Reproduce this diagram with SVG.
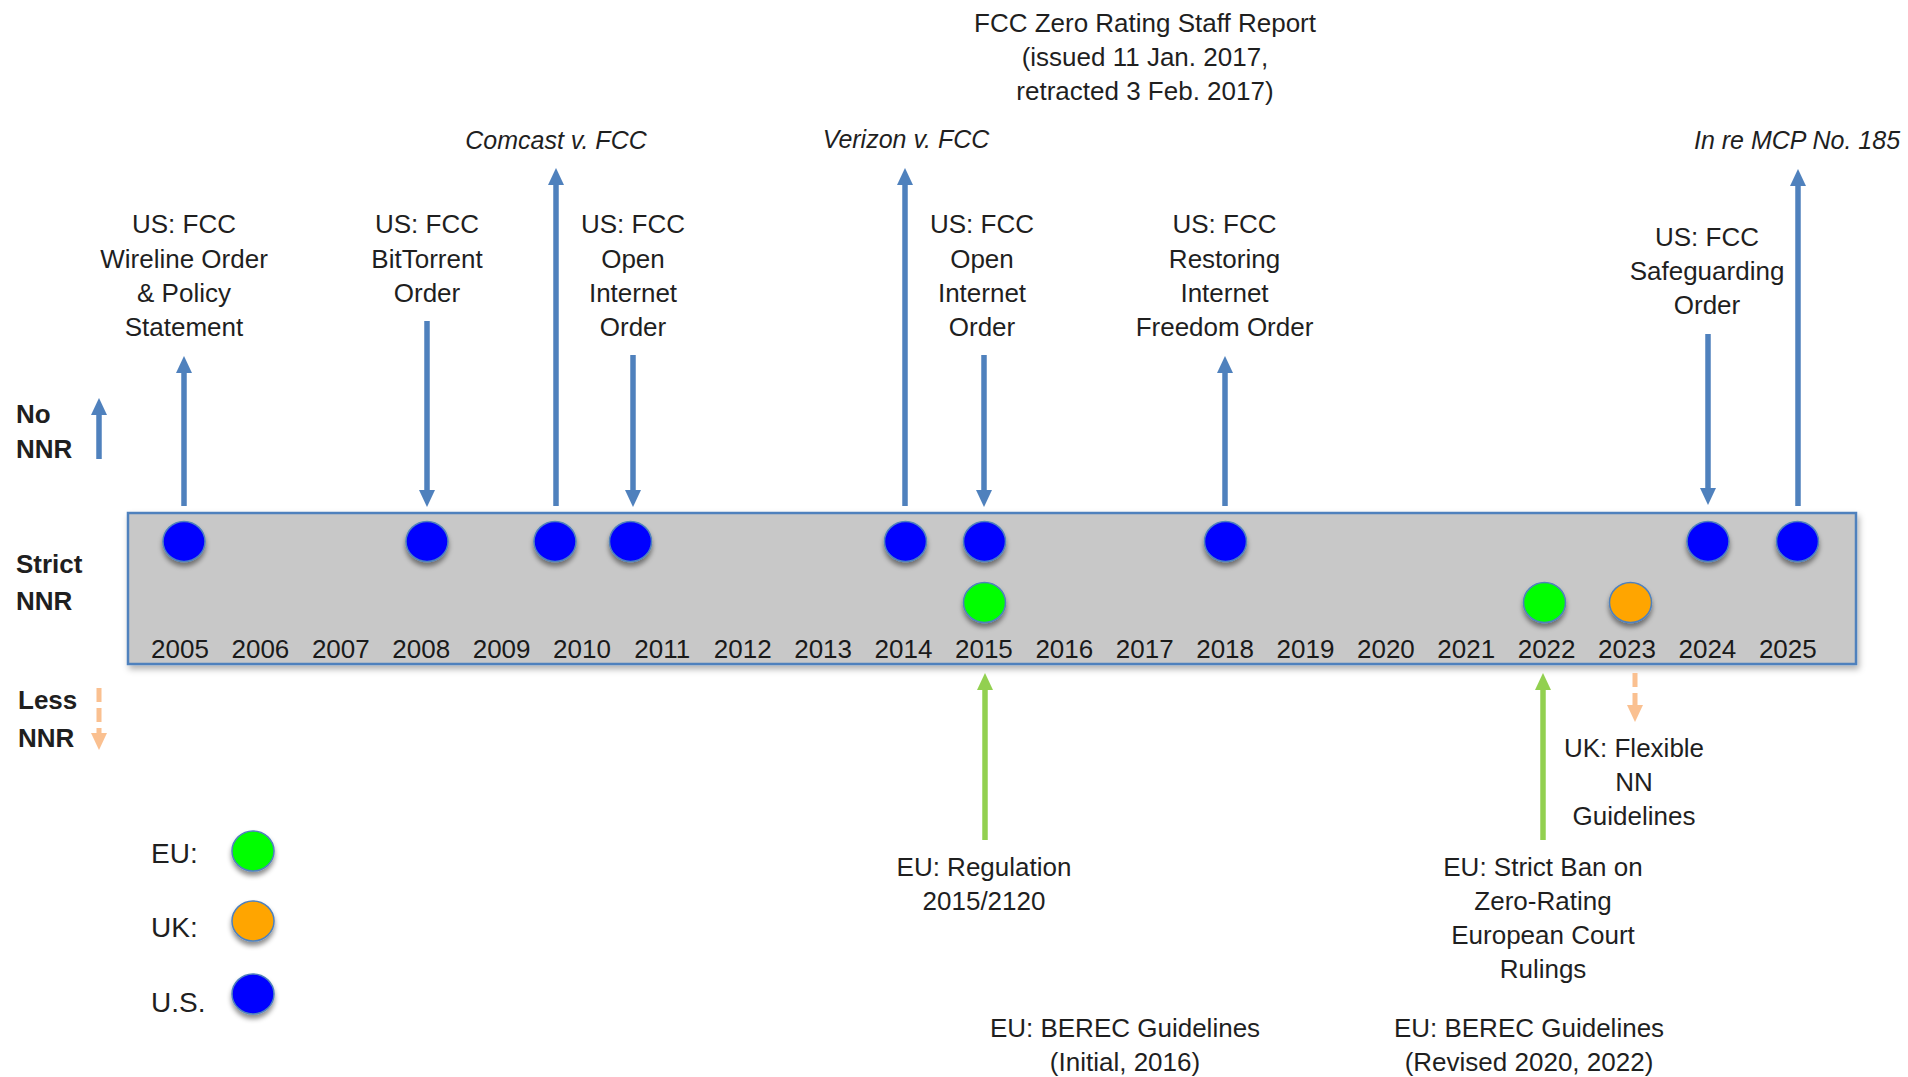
<svg xmlns="http://www.w3.org/2000/svg" width="1908" height="1077" viewBox="0 0 1908 1077">
<defs>
<style>
.t{font-family:"Liberation Sans",Arial,sans-serif;font-size:26px;fill:#1f1f1f;text-anchor:middle}
.it{font-style:italic;font-size:25px}
.b{font-family:"Liberation Sans",Arial,sans-serif;font-size:26px;font-weight:bold;fill:#1f1f1f}
.yr{font-family:"Liberation Sans",Arial,sans-serif;font-size:26px;fill:#1a1a1a;text-anchor:middle}
.lg{font-family:"Liberation Sans",Arial,sans-serif;font-size:28px;fill:#1f1f1f}
.blue{stroke:#4f81bd;stroke-width:5.5;fill:none;marker-end:url(#ahB)}
.green{stroke:#92d050;stroke-width:5.5;fill:none;marker-end:url(#ahG)}
.orange{stroke:#fac090;stroke-width:5;fill:none;stroke-dasharray:14 6;marker-end:url(#ahO)}
.dot{stroke:#4f81bd;stroke-width:1.5;filter:url(#sh)}
.us{fill:#0000ff}
.eu{fill:#00ff00}
.uk{fill:#ffa500}
</style>
<filter id="sh" x="-40%" y="-40%" width="180%" height="200%">
<feDropShadow dx="0" dy="4" stdDeviation="2.5" flood-color="#000" flood-opacity="0.45"/>
</filter>
<filter id="shr" x="-2%" y="-10%" width="104%" height="130%">
<feDropShadow dx="2" dy="4" stdDeviation="3" flood-color="#000" flood-opacity="0.3"/>
</filter>
<marker id="ahB" markerUnits="userSpaceOnUse" viewBox="0 0 18 18" markerWidth="18" markerHeight="18" refX="5" refY="9" orient="auto">
<path d="M0,1 L17,9 L0,17 z" fill="#4f81bd"/>
</marker>
<marker id="ahG" markerUnits="userSpaceOnUse" viewBox="0 0 18 18" markerWidth="18" markerHeight="18" refX="5" refY="9" orient="auto">
<path d="M0,1 L17,9 L0,17 z" fill="#92d050"/>
</marker>
<marker id="ahO" markerUnits="userSpaceOnUse" viewBox="0 0 18 18" markerWidth="18" markerHeight="18" refX="5" refY="9" orient="auto">
<path d="M0,1 L17,9 L0,17 z" fill="#fac090"/>
</marker>
</defs>
<rect width="1908" height="1077" fill="#ffffff"/>

<g id="timeline-bar">
<rect x="128" y="513" width="1728" height="151" fill="#c8c8c8" stroke="#4f81bd" stroke-width="2.5" filter="url(#shr)"/>
<text class="yr" x="180" y="658">2005</text>
<text class="yr" x="260.4" y="658">2006</text>
<text class="yr" x="340.8" y="658">2007</text>
<text class="yr" x="421.2" y="658">2008</text>
<text class="yr" x="501.6" y="658">2009</text>
<text class="yr" x="582" y="658">2010</text>
<text class="yr" x="662.3" y="658">2011</text>
<text class="yr" x="742.7" y="658">2012</text>
<text class="yr" x="823.1" y="658">2013</text>
<text class="yr" x="903.5" y="658">2014</text>
<text class="yr" x="983.9" y="658">2015</text>
<text class="yr" x="1064.3" y="658">2016</text>
<text class="yr" x="1144.7" y="658">2017</text>
<text class="yr" x="1225.1" y="658">2018</text>
<text class="yr" x="1305.5" y="658">2019</text>
<text class="yr" x="1385.9" y="658">2020</text>
<text class="yr" x="1466.2" y="658">2021</text>
<text class="yr" x="1546.6" y="658">2022</text>
<text class="yr" x="1627" y="658">2023</text>
<text class="yr" x="1707.4" y="658">2024</text>
<text class="yr" x="1787.8" y="658">2025</text>
</g>

<g id="axis-labels">
<text class="b" x="16" y="423">No</text>
<text class="b" x="16" y="458">NNR</text>
<text class="b" x="16" y="573">Strict</text>
<text class="b" x="16" y="610">NNR</text>
<text class="b" x="18" y="709">Less</text>
<text class="b" x="18" y="747">NNR</text>
</g>

<g id="connectors">
<line class="blue" x1="99" y1="459" x2="99" y2="410"/>
<line class="orange" x1="99" y1="688" x2="99" y2="738"/>
<line class="blue" x1="184" y1="506" x2="184" y2="368"/>
<line class="blue" x1="427" y1="321" x2="427" y2="495"/>
<line class="blue" x1="556" y1="506" x2="556" y2="180"/>
<line class="blue" x1="633" y1="355" x2="633" y2="495"/>
<line class="blue" x1="905" y1="506" x2="905" y2="180"/>
<line class="blue" x1="984" y1="355" x2="984" y2="495"/>
<line class="blue" x1="1225" y1="506" x2="1225" y2="368"/>
<line class="blue" x1="1708" y1="334" x2="1708" y2="493"/>
<line class="blue" x1="1798" y1="506" x2="1798" y2="181"/>
<line class="green" x1="985" y1="840" x2="985" y2="685"/>
<line class="green" x1="1543" y1="840" x2="1543" y2="685"/>
<line class="orange" x1="1635" y1="673" x2="1635" y2="710"/>
</g>

<g id="dots">
<ellipse class="dot us" cx="184" cy="541.5" rx="21" ry="20"/>
<ellipse class="dot us" cx="427" cy="541.5" rx="21" ry="20"/>
<ellipse class="dot us" cx="555" cy="541.5" rx="21" ry="20"/>
<ellipse class="dot us" cx="630.5" cy="541.5" rx="21" ry="20"/>
<ellipse class="dot us" cx="905.5" cy="541.5" rx="21" ry="20"/>
<ellipse class="dot us" cx="984.5" cy="541.5" rx="21" ry="20"/>
<ellipse class="dot us" cx="1225.5" cy="541.5" rx="21" ry="20"/>
<ellipse class="dot us" cx="1708" cy="541.5" rx="21" ry="20"/>
<ellipse class="dot us" cx="1797.5" cy="541.5" rx="21" ry="20"/>
<ellipse class="dot eu" cx="984.5" cy="602.5" rx="21" ry="20"/>
<ellipse class="dot eu" cx="1544.5" cy="602.5" rx="21" ry="20"/>
<ellipse class="dot uk" cx="1630.5" cy="602.5" rx="21" ry="20"/>
</g>

<g id="ev-2005-wireline">
<text class="t"><tspan x="184" y="233">US: FCC</tspan><tspan x="184" y="267.5">Wireline Order</tspan><tspan x="184" y="301.5">&amp; Policy</tspan><tspan x="184" y="335.5">Statement</tspan></text>
</g>
<g id="ev-2008-bittorrent">
<text class="t"><tspan x="427" y="233">US: FCC</tspan><tspan x="427" y="267.5">BitTorrent</tspan><tspan x="427" y="301.5">Order</tspan></text>
</g>
<g id="ev-2010-comcast">
<text class="t it" x="556" y="149">Comcast v. FCC</text>
</g>
<g id="ev-2011-open-internet">
<text class="t"><tspan x="633" y="233">US: FCC</tspan><tspan x="633" y="267.5">Open</tspan><tspan x="633" y="301.5">Internet</tspan><tspan x="633" y="335.5">Order</tspan></text>
</g>
<g id="ev-2014-verizon">
<text class="t it" x="906" y="148">Verizon v. FCC</text>
</g>
<g id="ev-2015-open-internet">
<text class="t"><tspan x="982" y="233">US: FCC</tspan><tspan x="982" y="267.5">Open</tspan><tspan x="982" y="301.5">Internet</tspan><tspan x="982" y="335.5">Order</tspan></text>
</g>
<g id="ev-2017-zero-rating-report">
<text class="t"><tspan x="1145" y="32">FCC Zero Rating Staff Report</tspan><tspan x="1145" y="66">(issued 11 Jan. 2017,</tspan><tspan x="1145" y="100">retracted 3 Feb. 2017)</tspan></text>
</g>
<g id="ev-2018-rif">
<text class="t"><tspan x="1224.5" y="233">US: FCC</tspan><tspan x="1224.5" y="267.5">Restoring</tspan><tspan x="1224.5" y="301.5">Internet</tspan><tspan x="1224.5" y="335.5">Freedom Order</tspan></text>
</g>
<g id="ev-2024-safeguarding">
<text class="t"><tspan x="1707" y="246">US: FCC</tspan><tspan x="1707" y="280">Safeguarding</tspan><tspan x="1707" y="314">Order</tspan></text>
</g>
<g id="ev-2025-mcp185">
<text class="t it" x="1797" y="149">In re MCP No. 185</text>
</g>
<g id="ev-2015-eu-regulation">
<text class="t"><tspan x="984" y="876">EU: Regulation</tspan><tspan x="984" y="910">2015/2120</tspan></text>
</g>
<g id="ev-2016-berec-initial">
<text class="t"><tspan x="1125" y="1037">EU: BEREC Guidelines</tspan><tspan x="1125" y="1071">(Initial, 2016)</tspan></text>
</g>
<g id="ev-2022-eu-zero-rating">
<text class="t"><tspan x="1543" y="876">EU: Strict Ban on</tspan><tspan x="1543" y="910">Zero-Rating</tspan><tspan x="1543" y="944">European Court</tspan><tspan x="1543" y="978">Rulings</tspan></text>
</g>
<g id="ev-2022-berec-revised">
<text class="t"><tspan x="1529" y="1037">EU: BEREC Guidelines</tspan><tspan x="1529" y="1071">(Revised 2020, 2022)</tspan></text>
</g>
<g id="ev-2023-uk-flexible">
<text class="t"><tspan x="1634" y="757">UK: Flexible</tspan><tspan x="1634" y="791">NN</tspan><tspan x="1634" y="825">Guidelines</tspan></text>
</g>

<g id="legend">
<text class="lg" x="151" y="863">EU:</text>
<text class="lg" x="151" y="937">UK:</text>
<text class="lg" x="151" y="1012">U.S.</text>
<ellipse class="dot eu" cx="253" cy="851" rx="21" ry="20"/>
<ellipse class="dot uk" cx="253" cy="921" rx="21" ry="20"/>
<ellipse class="dot us" cx="253" cy="994" rx="21" ry="20"/>
</g>
</svg>
